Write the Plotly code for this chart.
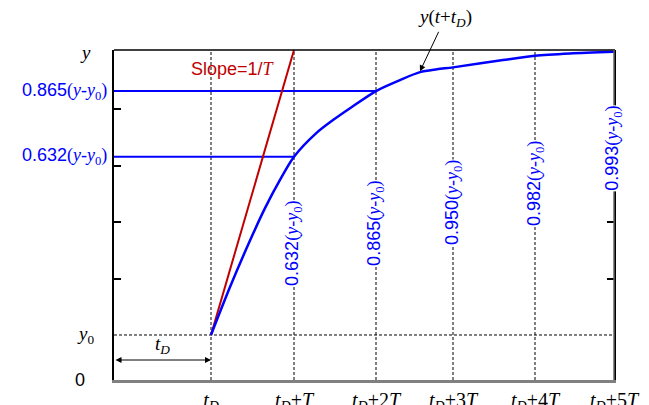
import plotly.graph_objects as go

# ---------------- data ----------------
# x positions (axis units, 0 = origin) of the time marks
x_tick_vals = [0.97, 1.80, 2.62, 3.39, 4.21, 5.00]
x_tick_names = ["t_D", "t_D+T", "t_D+2T", "t_D+3T", "t_D+4T", "t_D+5T"]

# response curve (fraction of y - y0)
curve_x = [0.97, 1.16, 1.36, 1.51, 1.66, 1.80, 2.02, 2.19, 2.36, 2.62,
           2.86, 3.06, 3.23, 3.39, 3.89, 4.21, 4.56, 5.00]
curve_v = [0.0, 0.17, 0.335, 0.45, 0.55, 0.632, 0.715, 0.762, 0.804, 0.865,
           0.904, 0.932, 0.942, 0.949, 0.975, 0.990, 0.998, 1.004]

# fractions reached after each time constant
frac_labels = ["0.632", "0.865", "0.950", "0.982", "0.993"]
frac_label_centers = [0.323, 0.394, 0.468, 0.535, 0.660]

# slope line (tangent at t_D) end points
slope_x = [0.97, 1.80]
slope_v = [0.0, 1.0106]

# minor ticks on the vertical axis
y_minor_ticks = [0.2, 0.4, 0.6, 0.8]

Y_MIN, Y_MAX = -0.1596, 1.0106

SANS = "Liberation Sans, Arial, sans-serif"
SERIF = "Liberation Serif"
BLUE = "#0000FF"
RED = "#C00000"


def serif(s):
    return '<span style="font-family:Liberation Serif">' + s + "</span>"


YY0 = serif("(<i>y</i>-<i>y</i><sub>0</sub>)")


def tick_html(name):
    if name == "t_D":
        return "<i>t</i><sub><i>D</i></sub>"
    rest = name[len("t_D+"):]
    num = rest[:-1]
    return "<i>t</i><sub><i>D</i></sub>+" + num + "<i>T</i>"


fig = go.Figure()

# horizontal level lines to the curve
fig.add_trace(go.Scatter(x=[0, x_tick_vals[1]], y=[0.632, 0.632], mode="lines",
                         line=dict(color=BLUE, width=2), hoverinfo="skip", showlegend=False,
                         cliponaxis=False))
fig.add_trace(go.Scatter(x=[0, x_tick_vals[2]], y=[0.865, 0.865], mode="lines",
                         line=dict(color=BLUE, width=2), hoverinfo="skip", showlegend=False,
                         cliponaxis=False))
# slope line
fig.add_trace(go.Scatter(x=slope_x, y=slope_v, mode="lines",
                         line=dict(color=RED, width=2), hoverinfo="skip", showlegend=False))
# response curve
fig.add_trace(go.Scatter(x=curve_x, y=curve_v, mode="lines",
                         line=dict(color=BLUE, width=2.5, shape="spline", smoothing=0.8),
                         hoverinfo="skip", showlegend=False, cliponaxis=False))

shapes = []
dash = "3px,2px"
for xv in x_tick_vals[:-1]:
    shapes.append(dict(type="line", xref="x", yref="paper", x0=xv, x1=xv, y0=0, y1=1,
                       line=dict(color="black", width=1, dash=dash), layer="below"))
# y0 dashed level
shapes.append(dict(type="line", xref="paper", yref="y", x0=0, x1=1, y0=0, y1=0,
                   line=dict(color="black", width=1, dash=dash), layer="below"))
# top border (black) and right border (gray)
shapes.append(dict(type="line", xref="paper", yref="paper", x0=0, x1=1.002, y0=1, y1=1,
                   line=dict(color="black", width=1.5), layer="above"))
shapes.append(dict(type="line", xref="paper", yref="paper", x0=1, x1=1, y0=0, y1=1,
                   line=dict(color="#666666", width=1.5), layer="above"))

annotations = []
# rotated fraction labels
for xv, lab, yc in zip(x_tick_vals[1:], frac_labels, frac_label_centers):
    annotations.append(dict(x=xv, y=yc, xref="x", yref="y", text=lab + YY0,
                            showarrow=False, textangle=-90, bgcolor="white",
                            font=dict(family=SANS, size=18, color=BLUE),
                            borderpad=0))
# left labels
annotations.append(dict(x=0, y=0.865, xref="paper", yref="y", xanchor="right", xshift=-5,
                        text="0.865" + YY0, showarrow=False,
                        font=dict(family=SANS, size=18, color=BLUE)))
annotations.append(dict(x=0, y=0.632, xref="paper", yref="y", xanchor="right", xshift=-5,
                        text="0.632" + YY0, showarrow=False,
                        font=dict(family=SANS, size=18, color=BLUE)))
annotations.append(dict(x=0, y=1.0, xref="paper", yref="y", xanchor="right", xshift=-21,
                        text="<i>y</i>", showarrow=False,
                        font=dict(family=SERIF, size=19, color="black")))
annotations.append(dict(x=0, y=0.0, xref="paper", yref="y", xanchor="right", xshift=-18,
                        text="<i>y</i><sub>0</sub>", showarrow=False,
                        font=dict(family=SERIF, size=19, color="black")))
annotations.append(dict(x=0, y=Y_MIN, xref="paper", yref="y", xanchor="right", xshift=-27,
                        text="0", showarrow=False,
                        font=dict(family=SANS, size=18, color="black")))
# slope label
annotations.append(dict(x=1.19, y=0.943, xref="x", yref="y",
                        text="Slope=1/" + serif("<i>T</i>"), showarrow=False,
                        font=dict(family=SANS, size=18, color=RED)))
# delay arrow
annotations.append(dict(x=x_tick_vals[0], y=-0.0887, xref="x", yref="y",
                        ax=0, ay=-0.0887, axref="x", ayref="y", text="",
                        showarrow=True, arrowside="end+start", arrowhead=2, arrowsize=1.2,
                        arrowwidth=1, arrowcolor="black"))
annotations.append(dict(x=x_tick_vals[0] / 2, y=-0.035, xref="x", yref="y",
                        text="<i>t</i><sub><i>D</i></sub>", showarrow=False,
                        font=dict(family=SERIF, size=19, color="black")))
# curve annotation
annotations.append(dict(x=3.06, y=0.935, xref="x", yref="y",
                        text="<i>y</i>(<i>t</i>+<i>t</i><sub><i>D</i></sub>)",
                        showarrow=True, ax=25, ay=-53, arrowhead=2, arrowsize=1.2,
                        arrowwidth=1, arrowcolor="black",
                        font=dict(family=SERIF, size=19, color="black")))

fig.update_layout(
    width=649, height=405,
    margin=dict(l=114, r=35, t=50, b=25),
    paper_bgcolor="white", plot_bgcolor="white",
    showlegend=False,
    shapes=shapes, annotations=annotations,
    xaxis=dict(range=[0, 5], showgrid=False, zeroline=False, automargin=False,
               showline=True, linecolor="#808080", linewidth=3,
               tickmode="array", tickvals=x_tick_vals,
               ticktext=[tick_html(n) for n in x_tick_names],
               ticks="", tickfont=dict(family=SERIF, size=20, color="black")),
    yaxis=dict(range=[Y_MIN, Y_MAX], showgrid=False, zeroline=False, automargin=False,
               showline=True, linecolor="black", linewidth=1.5, mirror="ticks",
               tickmode="array", tickvals=y_minor_ticks, showticklabels=False,
               ticks="inside", ticklen=7, tickwidth=1.5, tickcolor="black"),
)

fig.write_html("out.html")
